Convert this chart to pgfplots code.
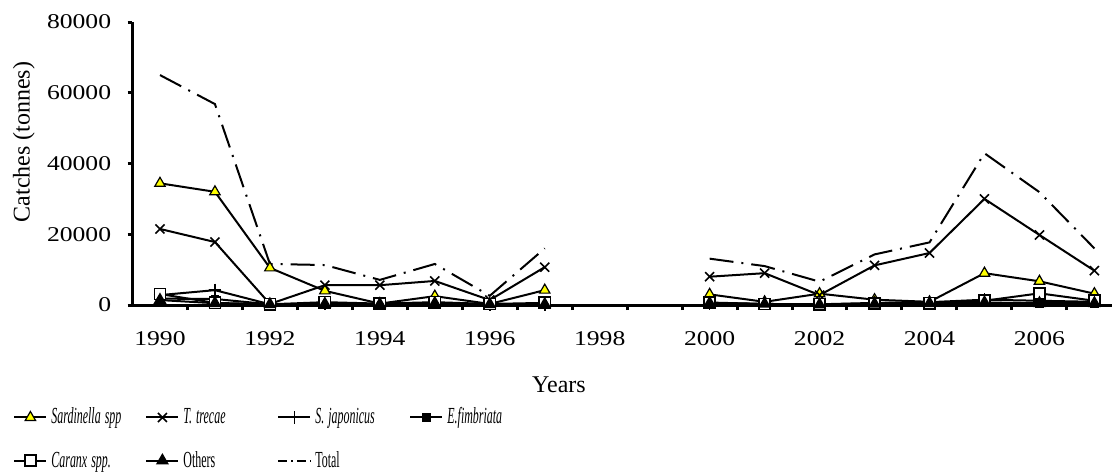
\documentclass[border=0pt]{standalone}
\usepackage{pgfplots}
\pgfplotsset{compat=1.18}
\usepackage{pgfplotstable}
\usepackage{graphicx}
\usepackage{fontspec}
\setmainfont{Liberation Serif}

\pgfplotstableread{
year Sard Ttre Sjap Efim Car Oth Tot
1990 34400 21500 2800 1800 3100 1400 65000
1991 32000 17800 4200 1700 600 500 56800
1992 10500 300 200 200 200 200 11600
1993 4000 5600 300 300 800 300 11300
1994 400 5600 300 200 400 200 7100
1995 2500 6800 600 400 800 500 11600
1996 300 1400 200 200 300 200 2600
1997 4200 10700 200 100 600 200 16000
1998 nan nan nan nan nan nan nan
1999 nan nan nan nan nan nan nan
2000 3000 8000 500 400 700 500 13100
2001 900 9000 300 200 300 300 11000
2002 3200 2800 200 100 200 100 6600
2003 1500 11200 600 300 400 300 14300
2004 900 14700 800 300 500 500 17700
2005 9000 30000 1500 500 1200 700 42900
2006 6700 19800 1200 400 3300 500 31900
2007 3200 9700 900 300 1200 500 16000
}\datatable

\definecolor{triyellow}{RGB}{255,255,0}

\newcommand{\tkl}[1]{\scalebox{1.22}[1]{#1}}
\newcommand{\lgt}[1]{\scalebox{0.52}[1]{#1}}

\begin{document}
\begin{tikzpicture}
\useasboundingbox (-66.25pt,-83.5pt) rectangle (490.75pt,152.5pt);
\begin{axis}[
  at={(0,0)}, anchor=south west,
  scale only axis,
  width=489.75pt, height=141.5pt,
  xmin=1989.5, xmax=2007.32,
  ymin=0, ymax=80000,
  scaled y ticks=false,
  axis x line=bottom, axis y line=left,
  axis line style={line width=1.5pt, -},
  clip=false,
  unbounded coords=jump,
  xtick={1990,1992,...,2006},
  xticklabels={\tkl{1990},\tkl{1992},\tkl{1994},\tkl{1996},\tkl{1998},\tkl{2000},\tkl{2002},\tkl{2004},\tkl{2006}},
  major x tick style={draw=none},
  minor xtick={1990.5,1991.5,...,2006.5},
  minor x tick style={line width=1.5pt, black},
  minor tick length=2.5pt,
  ytick={0,20000,40000,60000,80000},
  yticklabels={\tkl{0},\tkl{20000},\tkl{40000},\tkl{60000},\tkl{80000}},
  major y tick style={line width=1.5pt, black},
  major tick length=2.5pt,
  tick align=outside,
  xticklabel style={font=\fontsize{10.5}{12}\selectfont, inner sep=0pt, anchor=north, yshift=-10.6pt},
  yticklabel style={font=\fontsize{10.5}{12}\selectfont, inner sep=0pt, anchor=east, xshift=-8pt},
  xlabel={Years},
  xlabel style={font=\fontsize{12}{14}\selectfont, at={(axis description cs:0.4354,-0.282)}, anchor=center},
  ylabel={Catches (tonnes)},
  ylabel style={font=\fontsize{12}{14}\selectfont, at={(axis description cs:-0.1110,0.576)}, anchor=center},
  every axis plot/.append style={line width=1pt, black},
  legend columns=4,
  legend image code/.code={\draw[mark repeat=2,mark phase=2,#1] plot coordinates {(0pt,0pt)(8pt,0pt)(16pt,0pt)};},
  legend style={draw=none, fill=none, inner sep=0pt, at={(axis description cs:-0.122,-0.3484)}, anchor=north west,
    font=\fontsize{11.5}{13}\selectfont,
    column sep=0pt, row sep=8.1pt,
    cells={anchor=west, inner xsep=1.5pt, inner ysep=0pt, text width=45pt, text height=8pt, text depth=2pt}},
]
\addplot[mark=triangle*, mark size=3pt, mark options={fill=triyellow, draw=black, line width=0.6pt, solid}] table[x=year,y=Sard]{\datatable};
\addlegendentry{\lgt{\itshape Sardinella spp}}
\addplot[mark=x, mark size=3.2pt, mark options={line width=0.8pt, solid}] table[x=year,y=Ttre]{\datatable};
\addlegendentry{\lgt{\itshape T. trecae}}
\addplot[mark=+, mark size=3.2pt, mark options={line width=0.8pt, solid}] table[x=year,y=Sjap]{\datatable};
\addlegendentry{\lgt{\itshape S. japonicus}}
\addplot[mark=square*, mark size=1.6pt, mark options={fill=black, solid}] table[x=year,y=Efim]{\datatable};
\addlegendentry{\lgt{\itshape E.fimbriata}}
\addplot[mark=square*, mark size=2.8pt, mark options={fill=white, draw=black, line width=0.8pt, solid}] table[x=year,y=Car]{\datatable};
\addlegendentry{\lgt{\itshape Caranx spp.}}
\addplot[mark=triangle*, mark size=2.8pt, mark options={fill=black, solid}] table[x=year,y=Oth]{\datatable};
\addlegendentry{\lgt{Others}}
\addplot[no marks, dash pattern=on 12pt off 4pt on 1pt off 4pt,
  legend image code/.code={\draw[line width=1pt, dash pattern=on 4.5pt off 2pt on 0.8pt off 2pt] (0pt,0pt) -- (16pt,0pt);}] table[x=year,y=Tot]{\datatable};
\addlegendentry{\lgt{Total}}
\end{axis}
\end{tikzpicture}
\end{document}
